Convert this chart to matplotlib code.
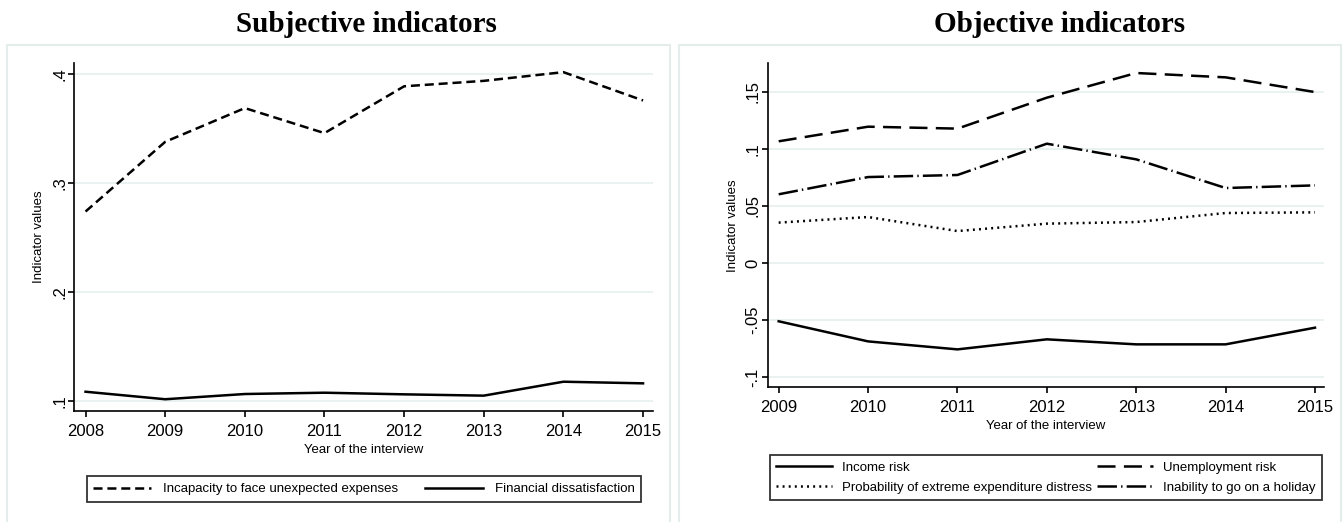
import matplotlib.pyplot as plt
from matplotlib.patches import Rectangle

plt.rcParams['font.family'] = ['Liberation Sans', 'DejaVu Sans']
plt.rcParams['lines.scale_dashes'] = False

# subjective panel
years_subj = [2008, 2009, 2010, 2011, 2012, 2013, 2014, 2015]
incapacity = [0.274, 0.338, 0.369, 0.346, 0.389, 0.394, 0.402, 0.376]
fin_dissat = [0.1085, 0.1016, 0.1064, 0.1076, 0.1061, 0.1049, 0.1177, 0.1162]
subj_yticks = [0.1, 0.2, 0.3, 0.4]
subj_ylabels = ['.1', '.2', '.3', '.4']

# objective panel
years_obj = [2009, 2010, 2011, 2012, 2013, 2014, 2015]
income_risk = [-0.051, -0.0686, -0.0756, -0.0668, -0.0712, -0.0712, -0.0566]
unemployment = [0.1066, 0.1194, 0.1177, 0.1448, 0.1664, 0.1626, 0.1497]
extreme_exp = [0.0354, 0.0403, 0.028, 0.0345, 0.0359, 0.0438, 0.0444]
holiday = [0.0602, 0.0753, 0.0771, 0.1045, 0.0908, 0.0657, 0.068]
obj_yticks = [-0.1, -0.05, 0, 0.05, 0.1, 0.15]
obj_ylabels = ['-.1', '-.05', '0', '.05', '.1', '.15']

W, H = 1344, 522
fig = plt.figure(figsize=(W / 100, H / 100), dpi=100)

def px_rect(x0, y0, x1, y1):
    # pixel box (top-left origin) -> figure fraction
    return [x0 / W, 1 - y1 / H, (x1 - x0) / W, (y1 - y0) / H]

# light panel frames
for x0, x1 in [(7, 670), (679, 1341)]:
    fig.patches.append(Rectangle((x0 / W, -0.05), (x1 - x0) / W, 1.05 - 45 / H,
                                 transform=fig.transFigure, fill=False,
                                 edgecolor='#e4ecec', lw=1.5))

def style_axes(ax, yticks, ylabels, xticks, xpad):
    for s in ['top', 'right']:
        ax.spines[s].set_visible(False)
    for s in ['left', 'bottom']:
        ax.spines[s].set_linewidth(1.2)
    ax.set_yticks(yticks)
    ax.set_yticklabels(ylabels, rotation=90, va='center')
    ax.set_xticks(xticks)
    ax.tick_params(axis='both', direction='out', length=4, width=1.2, labelsize=12)
    ax.tick_params(axis='y', pad=1)
    ax.tick_params(axis='x', pad=5)
    ax.grid(axis='y', color='#e6efef', lw=1.2)
    ax.set_axisbelow(True)
    ax.set_xlabel('Year of the interview', fontsize=9.5, labelpad=xpad)
    ax.set_ylabel('Indicator values', fontsize=9.5, labelpad=5)

ax1 = fig.add_axes(px_rect(74, 63, 652.6, 411))
ax1.plot(years_subj, incapacity, color='black', lw=1.8, dashes=(6.5, 3.5),
         label='Incapacity to face unexpected expenses')
ax1.plot(years_subj, fin_dissat, color='black', lw=1.8,
         label='Financial dissatisfaction')
ax1.set_xlim(2007.855, 2015.12)
ax1.set_ylim(0.0908, 0.4104)
style_axes(ax1, subj_yticks, subj_ylabels, years_subj, 4)
leg1 = ax1.legend(loc='center', ncol=2,
                  bbox_to_anchor=(80 / W, 1 - 504 / H, 568 / W, 30 / H),
                  bbox_transform=fig.transFigure, mode='expand', fontsize=9.5,
                  handlelength=4.4, frameon=True, fancybox=False, edgecolor='black',
                  borderpad=0.5, columnspacing=2.0, handletextpad=0.9)
leg1.get_frame().set_linewidth(1.3)

ax2 = fig.add_axes(px_rect(767.6, 63.3, 1324.3, 387.3))
l_inc, = ax2.plot(years_obj, income_risk, color='black', lw=1.8, label='Income risk')
l_une, = ax2.plot(years_obj, unemployment, color='black', lw=1.8, dashes=(13, 6),
                  label='Unemployment risk')
l_ext, = ax2.plot(years_obj, extreme_exp, color='black', lw=1.8, dashes=(1.4, 3),
                  label='Probability of extreme expenditure distress')
l_hol, = ax2.plot(years_obj, holiday, color='black', lw=1.8, dashes=(14, 3, 1, 3),
                  label='Inability to go on a holiday')
ax2.set_xlim(2008.876, 2015.104)
ax2.set_ylim(-0.1088, 0.1749)
style_axes(ax2, obj_yticks, obj_ylabels, years_obj, 4)
leg2 = ax2.legend(handles=[l_inc, l_ext, l_une, l_hol], loc='center', ncol=2,
                  bbox_to_anchor=(1046 / W, 1 - 477.5 / H),
                  bbox_transform=fig.transFigure, fontsize=9.5,
                  handlelength=4.2, frameon=True, fancybox=False, edgecolor='black',
                  borderpad=0.5, columnspacing=0.4, handletextpad=0.8, labelspacing=0.6)
leg2.get_frame().set_linewidth(1.3)

fig.text(366 / W, 1 - 25 / H, 'Subjective indicators', ha='center', va='center',
         fontsize=21, fontweight='bold', family='Liberation Serif')
fig.text(1060 / W, 1 - 25 / H, 'Objective indicators', ha='center', va='center',
         fontsize=21, fontweight='bold', family='Liberation Serif')

fig.savefig('out.png', dpi=100)
